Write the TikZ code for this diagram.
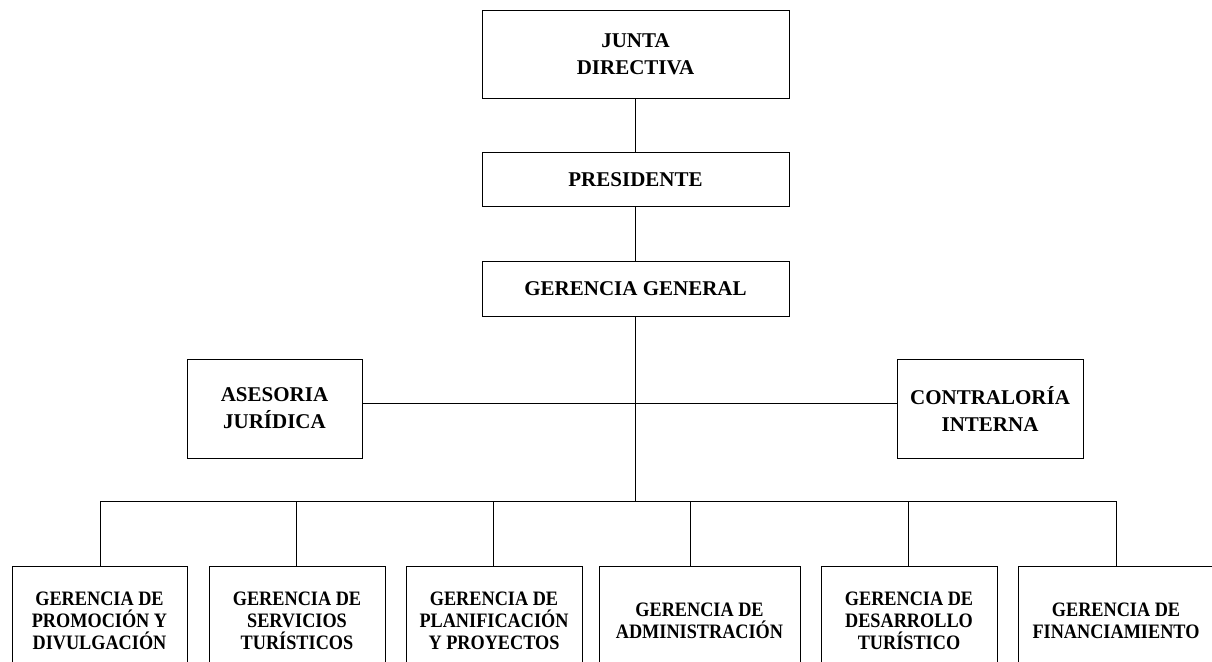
\documentclass[tikz,border=0pt]{standalone}
\usepackage{fontspec}
\setmainfont{Liberation Serif}
\newfontfamily\condfont[FakeStretch=0.89]{Liberation Serif}
\usepackage{tikz}
\usetikzlibrary{positioning}

\tikzset{
	unit/.style={draw, line width=0.8pt, align=center, inner sep=0pt,
		font=\bfseries\fontsize{21}{27}\selectfont},
	gerencia/.style={unit, minimum height=110pt,
		font=\condfont\bfseries\fontsize{20.5}{21.7}\selectfont},
	link/.style={line width=0.8pt}
}

\begin{document}
\begin{tikzpicture}[x=1pt, y=-1pt]
	\useasboundingbox (0,0) rectangle (1212,661);
	\clip (0,0) rectangle (1212,661);
	% Upper units:
	\node[unit, minimum width=307pt, minimum height=88pt] (jd) at (635.5, 54.5) {JUNTA\\DIRECTIVA};
	\node[unit, minimum width=307pt, minimum height=54pt] (pr) at (635.5, 179.5) {PRESIDENTE};
	\node[unit, minimum width=307pt, minimum height=55pt] (gg) at (635.5, 289) {GERENCIA GENERAL};
	\node[unit, minimum width=175pt, minimum height=99pt] (as) at (274.5, 408.5) {ASESORIA\\JURÍDICA};
	\node[unit, minimum width=186pt, minimum height=99pt] (co) at (990, 408.5) {CONTRALORÍA\\INTERNA};
	% Gerencias:
	\node[gerencia, minimum width=175pt] (g1) at (99.5, 621) {GERENCIA DE\\PROMOCIÓN Y\\DIVULGACIÓN};
	\node[gerencia, minimum width=176pt] (g2) at (297, 621) {GERENCIA DE\\SERVICIOS\\TURÍSTICOS};
	\node[gerencia, minimum width=176pt] (g3) at (494, 621) {GERENCIA DE\\PLANIFICACIÓN\\Y PROYECTOS};
	\node[gerencia, minimum width=201pt] (g4) at (699.5, 621) {GERENCIA DE\\ADMINISTRACIÓN};
	\node[gerencia, minimum width=176pt] (g5) at (909, 621) {GERENCIA DE\\DESARROLLO\\TURÍSTICO};
	\node[gerencia, minimum width=196pt] (g6) at (1116, 621) {GERENCIA DE\\FINANCIAMIENTO};
	% Lines:
	\draw[link] (jd.south) -- (pr.north);
	\draw[link] (pr.south) -- (gg.north);
	\coordinate (staff) at (635.5, 403);
	\draw[link] (staff -| as.east) -- (staff -| co.west);
	\foreach \n/\x in {1/100, 2/296, 3/493, 4/690, 5/908, 6/1116} {
		\coordinate (d\n) at (\x, 501);
		\draw[link] (d\n) -- (d\n |- g\n.north);
	}
	\draw[link] (d1) -- (d6);
	\draw[link] (gg.south) -- (gg.south |- d1);
\end{tikzpicture}
\end{document}
